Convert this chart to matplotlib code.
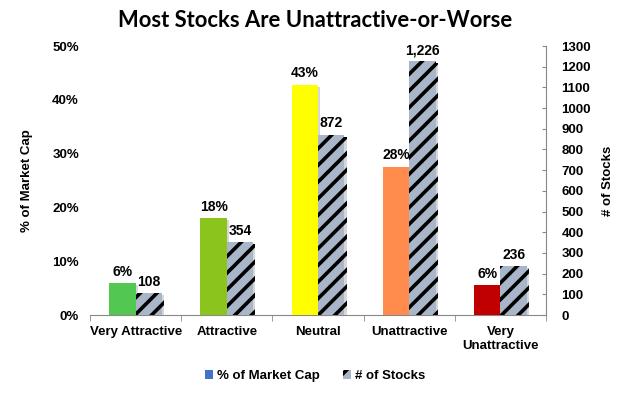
import matplotlib
matplotlib.use("Agg")
import matplotlib.pyplot as plt
import matplotlib.patheffects as pe
from matplotlib.patches import Patch
import numpy as np

categories = ["Very Attractive", "Attractive", "Neutral", "Unattractive", "Very\nUnattractive"]
pct_market_cap = [5.9, 18.0, 42.8, 27.6, 5.5]
num_stocks = [108, 354, 872, 1226, 236]
bar_colors = ["#52C852", "#8CC41E", "#FFFF00", "#FF8C4C", "#C00000"]

plt.rcParams['font.family'] = ['Liberation Sans', 'DejaVu Sans']
plt.rcParams['hatch.linewidth'] = 2.6

fig = plt.figure(figsize=(6.3, 3.94), dpi=100)
ax = fig.add_axes([0.1429, 0.2005, 0.7238, 0.6827])
ax2 = ax.twinx()

x = np.arange(len(categories))
w = 0.29
shadow = [pe.SimplePatchShadow(offset=(1.5, -1.5), shadow_rgbFace="#bbbbbb", alpha=0.6), pe.Normal()]

bars1 = ax.bar(x - w / 2, pct_market_cap, w, color=bar_colors, zorder=3, path_effects=shadow)
bars2 = ax2.bar(x + w / 2, num_stocks, w, color="#A9B6C9", edgecolor="black", linewidth=0,
                hatch="//", zorder=3, path_effects=shadow)

ax.set_xlim(-0.5, len(categories) - 0.5)
ax.set_ylim(0, 50)
ax2.set_ylim(0, 1300)
ax.set_yticks(np.arange(0, 51, 10))
ax.set_yticklabels([f"{v}%" for v in range(0, 51, 10)])
ax2.set_yticks(np.arange(0, 1301, 100))

for a in (ax, ax2):
    for s in ("top", "left", "right", "bottom"):
        a.spines[s].set_visible(False)
ax.spines["bottom"].set_visible(True)
ax.spines["bottom"].set_color("#888888")
ax2.spines["right"].set_visible(True)
ax2.spines["right"].set_color("#888888")

ax.tick_params(axis="y", length=0, pad=8, labelsize=9.5)
ax2.tick_params(axis="y", length=3, direction="in", color="#888888", pad=11, labelsize=9.5)
for lab in ax.get_yticklabels() + ax2.get_yticklabels():
    lab.set_fontweight("bold")

ax.set_xticks(x)
ax.set_xticklabels(categories, fontsize=9.5, fontweight="bold", va="top")
ax.tick_params(axis="x", length=0, pad=8)
ax.set_xticks(np.arange(-0.5, len(categories) + 0.5, 1), minor=True)
ax.tick_params(axis="x", which="minor", length=4, color="#888888", direction="out")

ax.set_ylabel("% of Market Cap", fontsize=9.5, fontweight="bold", labelpad=14)
ax2.set_ylabel("# of Stocks", fontsize=9.5, fontweight="bold", labelpad=8)

for b, v in zip(bars1, pct_market_cap):
    ax.text(b.get_x() + b.get_width() / 2, v + 0.8, f"{v:.0f}%", ha="center", va="bottom",
            fontsize=10, fontweight="bold")
for b, v in zip(bars2, num_stocks):
    ax2.text(b.get_x() + b.get_width() / 2, v + 20, f"{v:,}", ha="center", va="bottom",
             fontsize=10, fontweight="bold")

fig.text(0.5, 0.948, "Most Stocks Are Unattractive-or-Worse", ha="center", va="center",
         fontsize=15.8, fontweight="bold", family=["Lato", "DejaVu Sans"])

handles = [Patch(facecolor="#4472C4", edgecolor="none"),
           Patch(facecolor="#A9B6C9", edgecolor="black", linewidth=0, hatch="//")]
leg = fig.legend(handles, ["% of Market Cap", "# of Stocks"], loc="center", bbox_to_anchor=(0.5, 0.045),
                 ncol=2, frameon=False, handlelength=0.6, handleheight=0.6, handletextpad=0.3,
                 columnspacing=1.8, prop={"weight": "bold", "size": 9.5})

fig.savefig("out.png", dpi=100)
